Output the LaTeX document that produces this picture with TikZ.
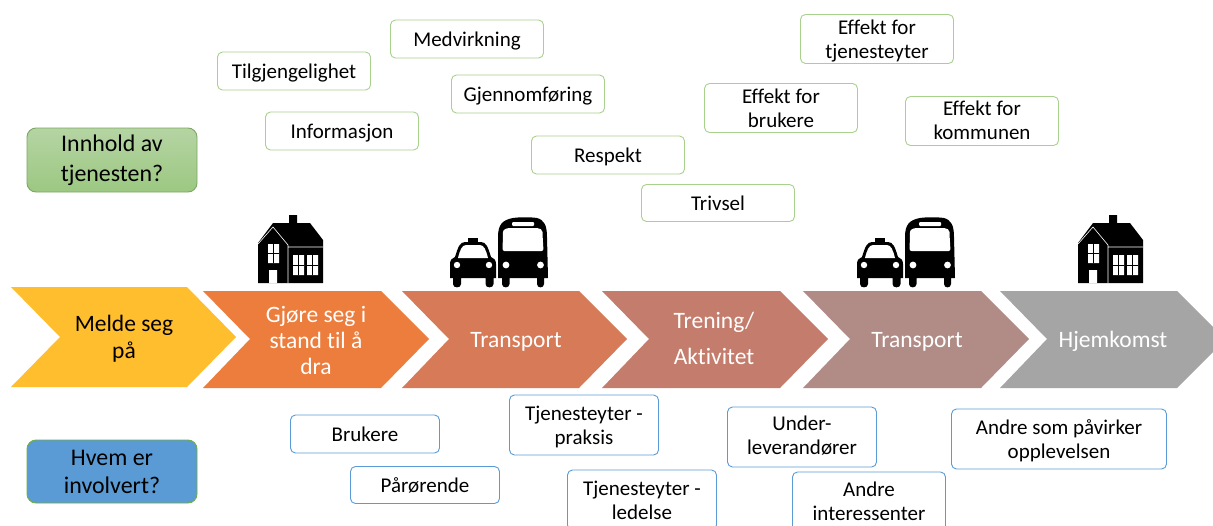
\documentclass[tikz,border=0pt]{standalone}
\usepackage{fontspec}
\setmainfont[Ligatures=NoCommon]{Carlito}
\definecolor{gborder}{HTML}{A9D18E}
\definecolor{bborder}{HTML}{5B9BD5}
\definecolor{gA}{HTML}{B5D4A3}
\definecolor{gB}{HTML}{9CC882}
\definecolor{gedge}{HTML}{7BA963}
\newcommand\onel[1]{\raisebox{-7.3pt}[0pt][0pt]{#1}}
\newcommand\twol[3][5pt]{\raisebox{#1}[0pt][0pt]{\begin{tabular}[t]{@{}c@{}}#2\\#3\end{tabular}}}
\tikzset{
  x=1pt,y=-1pt,
  greenbox/.style={draw=gborder,line width=0.9pt,rounded corners=5pt,fill=white,align=center,minimum width=153pt,font=\fontsize{21}{24.5}\selectfont,inner sep=0pt},
  bluebox/.style={draw=bborder,line width=0.9pt,rounded corners=5pt,fill=white,align=center,minimum width=149pt,font=\fontsize{21}{24.5}\selectfont,inner sep=0pt},
  sidelabel/.style={align=center,font=\fontsize{23.9}{29}\selectfont,inner sep=0pt},
  steplabel/.style={align=center,font=\fontsize{23.5}{33}\selectfont,inner sep=0pt},
  pics/house/.style={code={
    \fill[black] (0,28)--(15,8)--(31,8)--(31,0)--(39,0)--(39,8)--(52,8)--(65,25)--(65,68)--(0,68)--cycle;
    \draw[white,line width=0.6pt] (0,29)--(15,12)--(30,30)--(30,68) (30,32)--(65,32);
    \fill[white] (10,29) rectangle (21,48) (11,55) rectangle (19,68) (35,40) rectangle (46,60) (49,40) rectangle (60,60);
    \draw[black,line width=0.5pt] (15.5,29)--(15.5,48) (10,38.5)--(21,38.5) (40.5,40)--(40.5,60) (54.5,40)--(54.5,60) (35,50)--(46,50) (49,50)--(60,50);
  }},
  pics/vehicles/.style={code={
    % taxi
    \fill[black] (18,21) rectangle (28,27);
    \fill[black] (5,40) .. controls (8,30) and (10,25) .. (15,25) -- (31,25) .. controls (36,25) and (38,30) .. (41,40) .. controls (44,41) and (46,43) .. (46,47) -- (46,61) -- (43.5,61) -- (43.5,67) .. controls (43.5,71.5) and (35.5,71.5) .. (35.5,67) -- (35.5,61) -- (11,61) -- (11,67) .. controls (11,71.5) and (3,71.5) .. (3,67) -- (3,61) -- (0,61) -- (0,47) .. controls (0,43) and (2,41) .. (5,40) -- cycle;
    \fill[white] (8,41) .. controls (10,33) and (12,28) .. (16,28) -- (30,28) .. controls (34,28) and (36,33) .. (38,41) -- cycle;
    \fill[white] (7,48) circle (3.2) (39,48) circle (3.2);
    % bus
    \fill[black] (48,61) -- (48,20) .. controls (48,8) and (52,3) .. (63,1) .. controls (70,0) and (80,0) .. (87,1) .. controls (94,3) and (97,8) .. (97,20) -- (98,61) -- (94,61) -- (94,67) .. controls (94,71.5) and (87,71.5) .. (87,67) -- (87,61) -- (59.5,61) -- (59.5,67) .. controls (59.5,71.5) and (52,71.5) .. (52,67) -- (52,61) -- cycle;
    \fill[white,rounded corners=2pt] (52.5,34) -- (53,17) .. controls (53,13) and (56,11) .. (62,11) -- (85,11) .. controls (90,11) and (92.5,13) .. (92.5,17) -- (93.5,34) -- cycle;
    \fill[white,rounded corners=1pt] (62,5) rectangle (84,9);
    \fill[white] (56,48) circle (3.4) (90.5,48) circle (3.4);
  }}
}
\begin{document}
\begin{tikzpicture}
\useasboundingbox (0,0) rectangle (1213,525);
\fill[white] (0,0) rectangle (1213,525);
% chevrons
\fill[fill={rgb,255:red,255;green,190;blue,46}] (11,287)--(187,287)--(236,337)--(187,387)--(11,387)--(60,337)--cycle;
\fill[fill={rgb,255:red,236;green,125;blue,60}] (203,291)--(381,291)--(429,339)--(381,388)--(203,388)--(250,339)--cycle;
\fill[fill={rgb,255:red,215;green,122;blue,87}] (402,291)--(579,291)--(627,339)--(579,388)--(402,388)--(449,339)--cycle;
\fill[fill={rgb,255:red,196;green,125;blue,108}] (602,291)--(780,291)--(828,339)--(780,388)--(602,388)--(649,339)--cycle;
\fill[fill={rgb,255:red,177;green,140;blue,134}] (803,291)--(981,291)--(1029,339)--(981,388)--(803,388)--(850,339)--cycle;
\fill[fill={rgb,255:red,165;green,165;blue,165}] (1000,291)--(1177,291)--(1213,327)--(1213,352)--(1177,388)--(1000,388)--(1047,339)--cycle;
\node[steplabel,font=\fontsize{23.5}{27}\selectfont] (s1) at (124,339) {Melde seg\\på};
\node[steplabel,text=white,font=\fontsize{23.5}{26}\selectfont] (s2) at (316,340) {Gjøre seg i\\stand til å\\dra};
\node[steplabel,text=white] (s3) at (516,342) {Transport};
\node[steplabel,text=white,font=\fontsize{23.5}{36}\selectfont] (s4) at (714,338.5) {Trening/\\Aktivitet};
\node[steplabel,text=white] (s5) at (917,342) {Transport};
\node[steplabel,text=white] (s6) at (1113,341) {Hjemkomst};
% side boxes
\shade[top color=gA,bottom color=gB,draw=gedge,line width=0.9pt,rounded corners=9pt] (27,128) rectangle (197,192);
\node[sidelabel,font=\fontsize{23.9}{30}\selectfont] (q1) at (112,160) {Innhold av\\tjenesten?};
\fill[fill={rgb,255:red,91;green,155;blue,213},draw={rgb,255:red,112;green,173;blue,71},line width=0.9pt,rounded corners=9pt] (27,440) rectangle (197,503);
\node[sidelabel,font=\fontsize{23.9}{28}\selectfont] (q2) at (112,472) {Hvem er\\involvert?};
% green boxes
\node[greenbox,minimum height=38pt] (g1) at (294,71) {\onel{Tilgjengelighet}};
\node[greenbox,minimum height=38pt] (g2) at (467,39) {\onel{Medvirkning}};
\node[greenbox,minimum height=38pt] (g3) at (528,94) {\onel{Gjennomføring}};
\node[greenbox,minimum height=38pt] (g4) at (342,131) {\onel{Informasjon}};
\node[greenbox,minimum height=38pt] (g5) at (608,155) {\onel{Respekt}};
\node[greenbox,minimum height=37pt] (g6) at (718,203) {\onel{Trivsel}};
\node[greenbox,minimum height=49pt] (g7) at (877,39) {\twol{Effekt for}{tjenesteyter}};
\node[greenbox,minimum height=49pt] (g8) at (781,108) {\twol{Effekt for}{brukere}};
\node[greenbox,minimum height=49pt] (g9) at (982,121) {\twol[6pt]{Effekt for}{kommunen}};
% blue boxes
\node[bluebox,minimum height=38pt] (b1) at (365,434) {\onel{Brukere}};
\node[bluebox,minimum height=37pt] (b2) at (425,485) {\onel{Pårørende}};
\node[bluebox,minimum height=60pt] (b3) at (584,425) {\twol{Tjenesteyter -}{praksis}};
\node[bluebox,minimum height=60pt] (b4) at (642,500) {\twol{Tjenesteyter -}{ledelse}};
\node[bluebox,minimum height=60pt] (b5) at (802,437) {\twol[7pt]{Under-}{leverandører}};
\node[bluebox,minimum height=60pt,minimum width=153pt] (b6) at (869,502) {\twol[6pt]{Andre}{interessenter}};
\node[bluebox,minimum height=60pt,minimum width=215pt] (b7) at (1059,439) {\twol{Andre som påvirker}{opplevelsen}};
% icons
\pic at (258,215) {house};
\pic at (1078,215) {house};
\pic at (450,217) {vehicles};
\pic at (857,217) {vehicles};
\end{tikzpicture}
\end{document}
